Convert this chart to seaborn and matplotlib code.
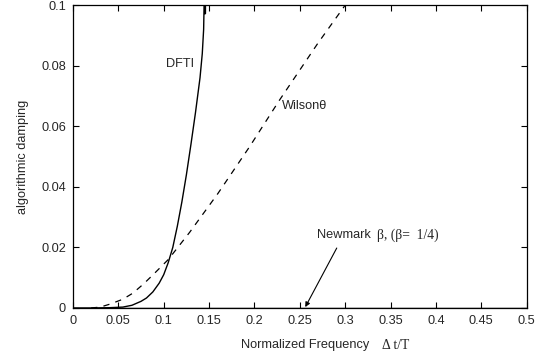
import numpy as np
import pandas as pd
import matplotlib
matplotlib.use("Agg")
import matplotlib.pyplot as plt
import seaborn as sns

# valores
dfti_freq = [0.0, 0.02, 0.04, 0.055, 0.065, 0.075, 0.081, 0.088, 0.095, 0.100,
             0.105, 0.110, 0.115, 0.120, 0.125, 0.130, 0.135, 0.140, 0.1425, 0.144,
             0.1445, 0.1452, 0.1452, 0.1460, 0.1460]
dfti_damp = [0.0, 0.0, 0.0001, 0.0003, 0.0009, 0.0022, 0.0033, 0.0053, 0.0082, 0.0110,
             0.0150, 0.0200, 0.027, 0.035, 0.044, 0.054, 0.0645, 0.076, 0.084, 0.092,
             0.1, 0.1, 0.0972, 0.0972, 0.1]

wilson_freq = [0.02, 0.03, 0.041, 0.055, 0.066, 0.078, 0.09, 0.105, 0.1286, 0.1597,
               0.1945, 0.2275, 0.2696, 0.30]
wilson_damp = [0.0, 0.0003, 0.0013, 0.0029, 0.0049, 0.0080, 0.0115, 0.0160, 0.0250,
               0.0378, 0.0532, 0.0686, 0.0873, 0.100]

newmark_freq = [0.0, 0.5]
newmark_damp = [0.0, 0.0]

x_ticks = [0, 0.05, 0.1, 0.15, 0.2, 0.25, 0.3, 0.35, 0.4, 0.45, 0.5]
y_ticks = [0, 0.02, 0.04, 0.06, 0.08, 0.1]

sns.set_theme(style="ticks")
plt.rcParams['font.family'] = ['Liberation Sans', 'DejaVu Sans']
plt.rcParams['xtick.direction'] = 'in'
plt.rcParams['ytick.direction'] = 'in'

df_dfti = pd.DataFrame({'freq': dfti_freq, 'damp': dfti_damp})
df_wilson = pd.DataFrame({'freq': wilson_freq, 'damp': wilson_damp})
df_newmark = pd.DataFrame({'freq': newmark_freq, 'damp': newmark_damp})

fs = 9.2

fig = plt.figure(figsize=(5.35, 3.55), dpi=100)
ax = fig.add_axes([0.1364, 0.1324, 0.8480, 0.853])

sns.lineplot(data=df_newmark, x='freq', y='damp', ax=ax, color='black', lw=1.0,
             sort=False, estimator=None)
sns.lineplot(data=df_dfti, x='freq', y='damp', ax=ax, color='black', lw=1.0,
             sort=False, estimator=None)
sns.lineplot(data=df_wilson, x='freq', y='damp', ax=ax, color='black', lw=0.9,
             sort=False, estimator=None, dashes=False, linestyle=(0, (5, 5)))

ax.set_xlim(0, 0.5)
ax.set_ylim(0, 0.1)
ax.set_xticks(x_ticks)
ax.set_xticklabels([f"{t:g}" for t in x_ticks])
ax.set_yticks(y_ticks)
ax.set_yticklabels([f"{t:g}" for t in y_ticks])
ax.tick_params(axis='both', labelsize=fs, length=4, width=0.8, color='black',
               top=True, right=True, pad=5)
for s in ax.spines.values():
    s.set_color('black')
    s.set_linewidth(0.9)

ax.set_xlabel('')
ax.set_ylabel('algorithmic damping', fontsize=fs, labelpad=9)

# rótulos das curvas
ax.text(0.103, 0.0805, 'DFTI', fontsize=fs, va='center', ha='left')
ax.text(0.2305, 0.0668, 'Wilson\u03b8', fontsize=fs, va='center', ha='left')
ax.text(0.2685, 0.0240, 'Newmark', fontsize=fs, va='center', ha='left')
ax.text(0.335, 0.0240, '\u03b2, (\u03b2=  1/4)', fontsize=fs + 0.6, va='center', ha='left',
        family=['Liberation Serif', 'DejaVu Serif'])
ax.annotate('', xy=(0.256, 0.0003), xytext=(0.2907, 0.0198),
            arrowprops=dict(arrowstyle='-|>', color='black', lw=0.8,
                            mutation_scale=7, shrinkA=0, shrinkB=0))

# rótulo do eixo x (parte em serif)
fig.text(0.4505, 0.028, 'Normalized Frequency', fontsize=fs, ha='left', va='center')
fig.text(0.714, 0.028, '\u0394 t/T', fontsize=fs + 0.6, ha='left', va='center',
         family=['Liberation Serif', 'DejaVu Serif'])

plt.savefig('out.png', dpi=100)
plt.close()
